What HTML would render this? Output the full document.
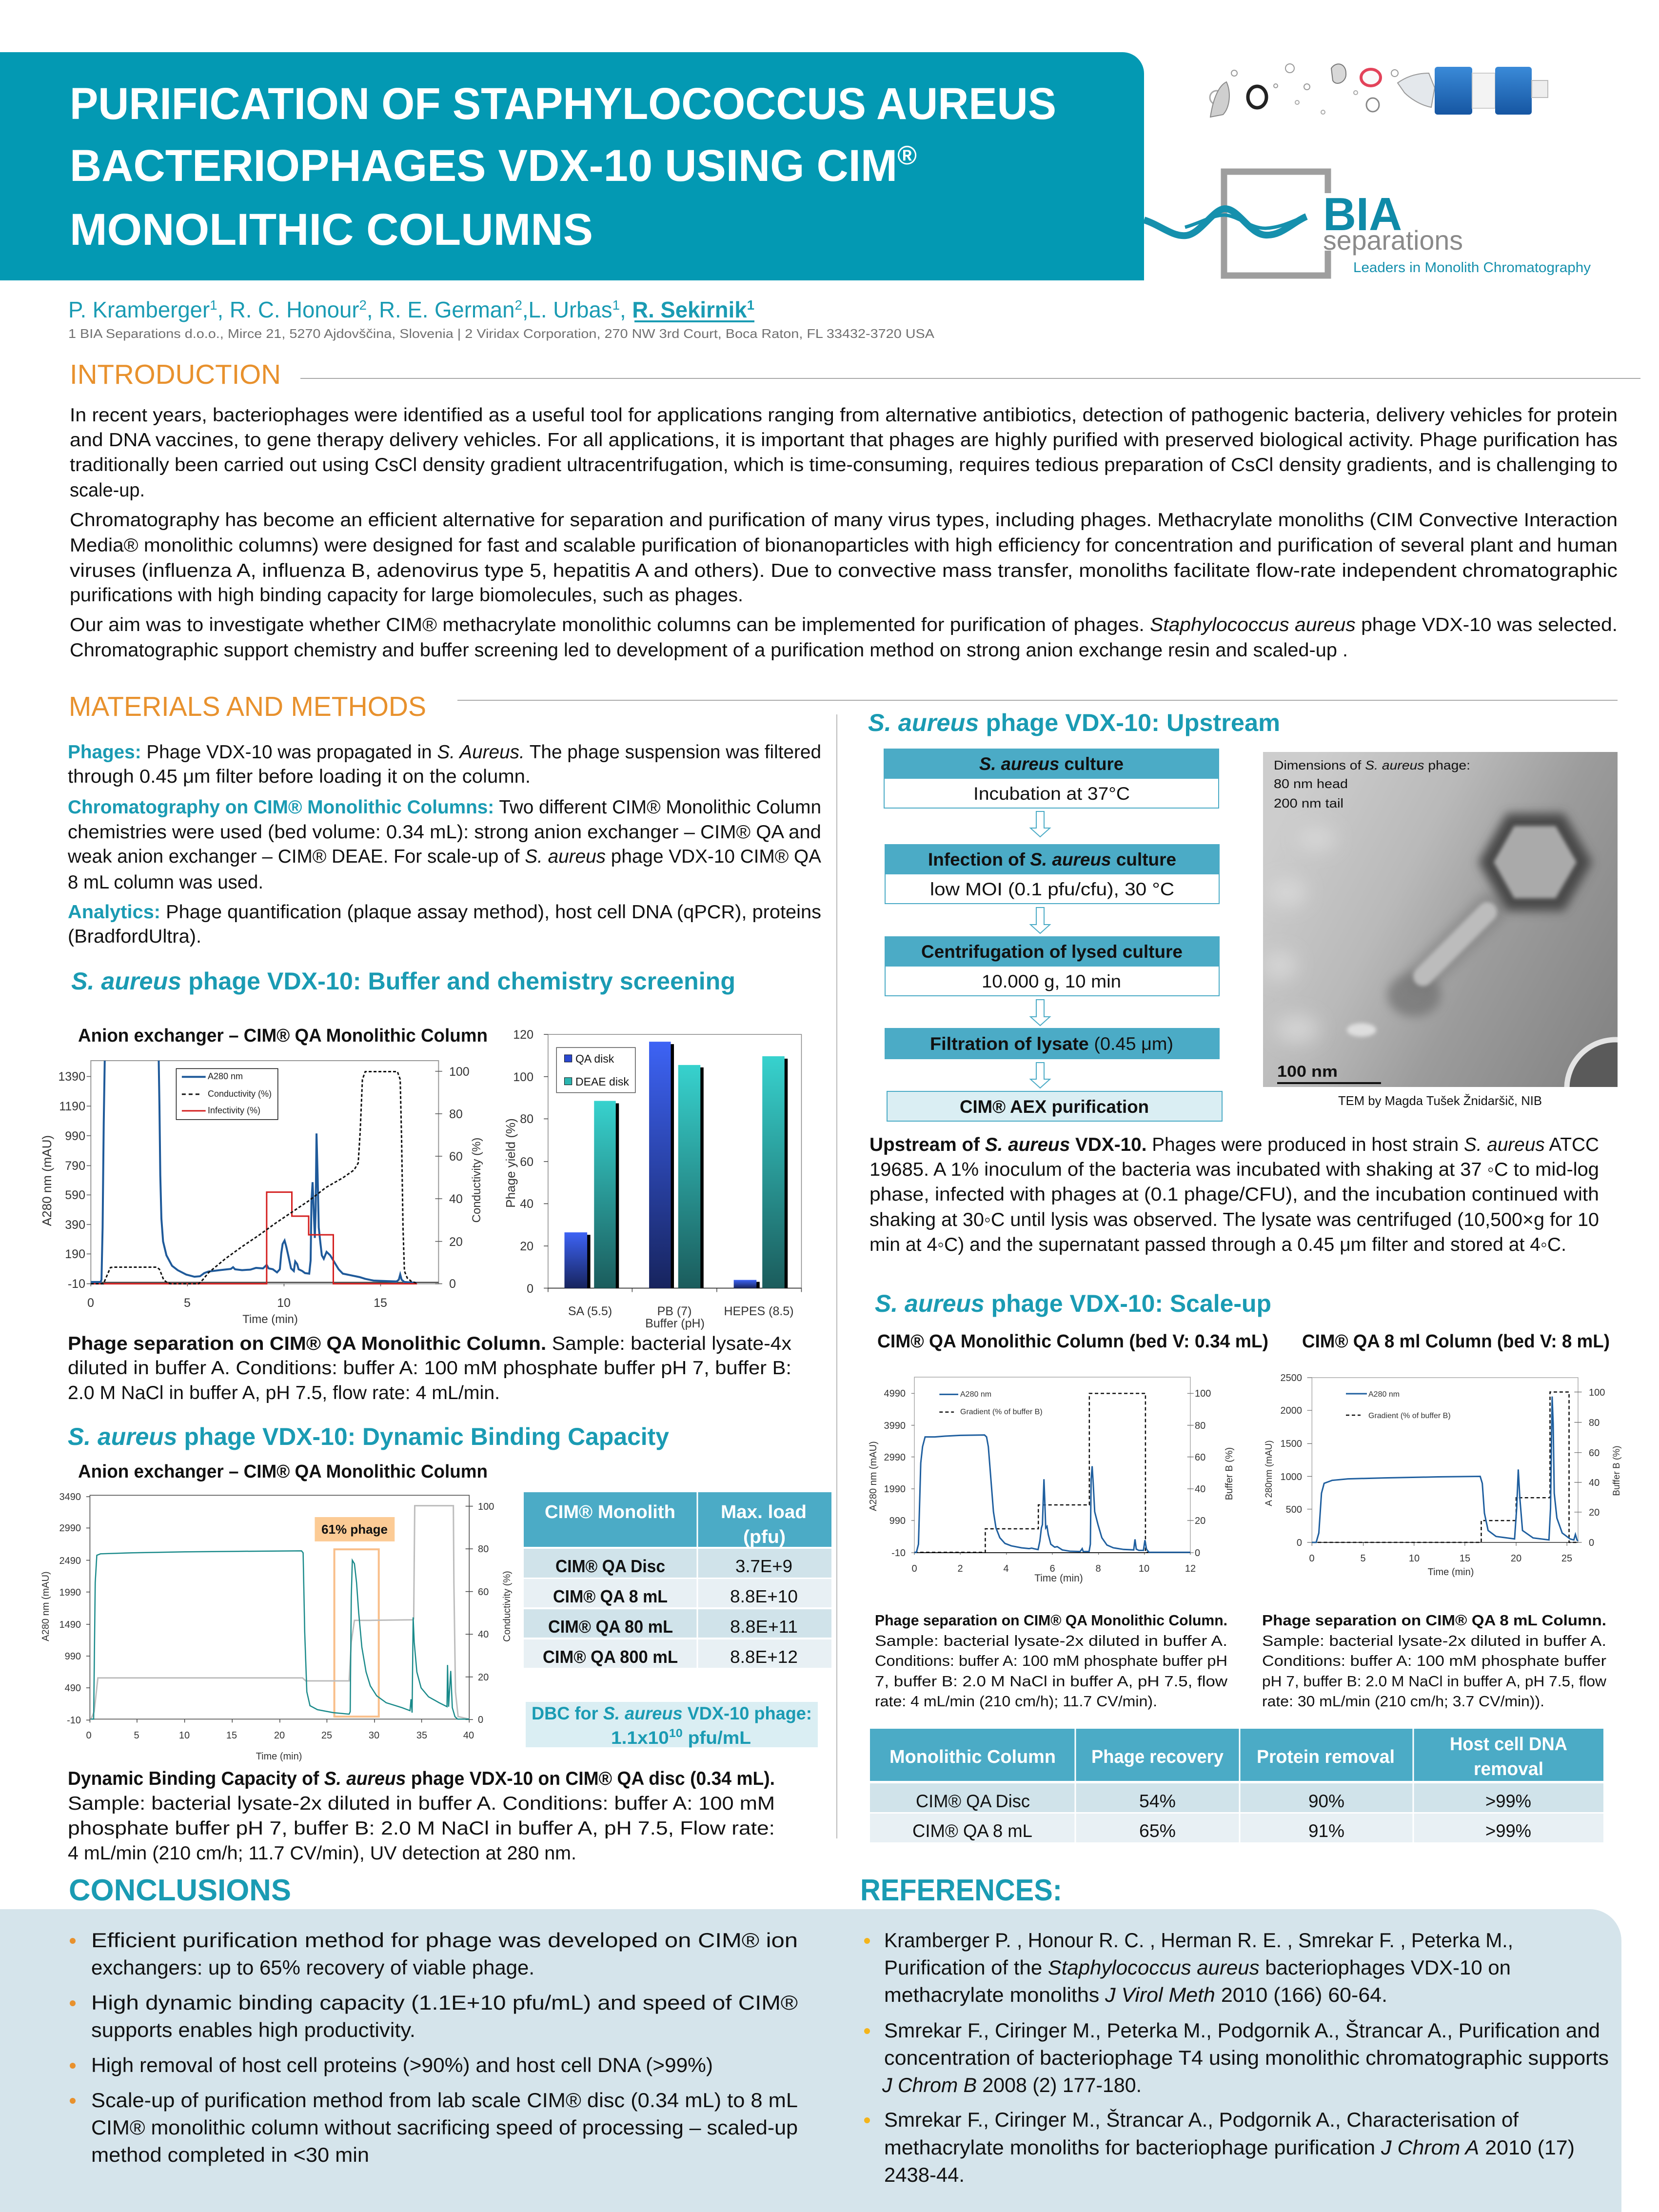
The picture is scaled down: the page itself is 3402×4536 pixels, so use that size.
<!DOCTYPE html>
<html><head><meta charset="utf-8"><style>
html,body{margin:0;padding:0;background:#fff;}
svg{display:block;font-family:"Liberation Sans","DejaVu Sans",sans-serif;}
.ns *{vector-effect:non-scaling-stroke;}
.tk{fill:#333;}
</style></head><body>
<svg xmlns="http://www.w3.org/2000/svg" width="3402" height="4536" viewBox="0 0 3402 4536">
<defs>
<linearGradient id="gQA" x1="0" y1="0" x2="0" y2="1"><stop offset="0" stop-color="#3d63f5"/><stop offset="1" stop-color="#17245e"/></linearGradient>
<linearGradient id="gDE" x1="0" y1="0" x2="0" y2="1"><stop offset="0" stop-color="#37d2ce"/><stop offset="1" stop-color="#1b5c5c"/></linearGradient>
<linearGradient id="gTEM" x1="0" y1="0.3" x2="1" y2="0.8"><stop offset="0" stop-color="#cdcdcd"/><stop offset="0.35" stop-color="#b9b9b9"/><stop offset="0.62" stop-color="#9c9c9c"/><stop offset="1" stop-color="#858585"/></linearGradient>
<linearGradient id="gCyl" x1="0" y1="0" x2="0" y2="1"><stop offset="0" stop-color="#3a8ad8"/><stop offset="1" stop-color="#1656a2"/></linearGradient>
<filter id="bl10" x="-50%" y="-50%" width="200%" height="200%"><feGaussianBlur stdDeviation="10"/></filter>
<filter id="bl4" x="-50%" y="-50%" width="200%" height="200%"><feGaussianBlur stdDeviation="4"/></filter>
<filter id="bl18" x="-80%" y="-80%" width="260%" height="260%"><feGaussianBlur stdDeviation="18"/></filter>
<clipPath id="c1"><rect x="220" y="42" width="1242" height="1295"/></clipPath>
<clipPath id="ctem"><rect x="2590" y="1542" width="727" height="687"/></clipPath>
</defs>

<!-- HEADER -->
<path d="M0,107 H2302 A44,44 0 0 1 2346,151 V575 H0 Z" fill="#0399b3"/>
<g fill="#fff" font-weight="bold" font-size="92">
<text x="143" y="244" textLength="2023" lengthAdjust="spacingAndGlyphs">PURIFICATION OF STAPHYLOCOCCUS AUREUS</text>
<text x="143" y="371" textLength="1737" lengthAdjust="spacingAndGlyphs">BACTERIOPHAGES VDX-10 USING CIM<tspan font-size="55" dy="-34">®</tspan></text>
<text x="143" y="502" textLength="1073" lengthAdjust="spacingAndGlyphs">MONOLITHIC COLUMNS</text>
</g>

<!-- product image -->
<g>
<circle cx="2495" cy="200" r="14" fill="none" stroke="#aaa" stroke-width="3"/>
<path d="M2482,240 C2488,200 2500,175 2515,168 C2525,190 2522,220 2508,235 Z" fill="#cfcfcf" stroke="#888" stroke-width="2"/>
<circle cx="2531" cy="150" r="6" fill="none" stroke="#999" stroke-width="2"/>
<ellipse cx="2578" cy="199" rx="19" ry="22" fill="none" stroke="#222" stroke-width="7"/>
<circle cx="2616" cy="176" r="4" fill="none" stroke="#999" stroke-width="2"/>
<circle cx="2645" cy="140" r="9" fill="none" stroke="#999" stroke-width="2"/>
<circle cx="2680" cy="178" r="6" fill="none" stroke="#999" stroke-width="2"/>
<circle cx="2660" cy="210" r="4" fill="none" stroke="#aaa" stroke-width="2"/>
<path d="M2730,140 C2740,125 2760,130 2760,150 C2762,168 2740,178 2733,165 Z" fill="#d8d8d8" stroke="#777" stroke-width="2"/>
<circle cx="2713" cy="230" r="4" fill="none" stroke="#aaa" stroke-width="2"/>
<ellipse cx="2811" cy="159" rx="20" ry="17" fill="#fafafa" stroke="#e3435a" stroke-width="6"/>
<ellipse cx="2815" cy="215" rx="13" ry="14" fill="none" stroke="#888" stroke-width="3"/>
<circle cx="2780" cy="190" r="4" fill="none" stroke="#aaa" stroke-width="2"/>
<circle cx="2860" cy="150" r="7" fill="none" stroke="#999" stroke-width="2"/>
<path d="M2866,170 C2880,160 2900,150 2930,150 L2942,180 L2935,220 C2910,215 2890,200 2880,190 Z" fill="#e4e8ec" stroke="#999" stroke-width="2"/>
<rect x="2942" y="137" width="77" height="98" rx="6" fill="url(#gCyl)"/>
<rect x="3019" y="150" width="47" height="72" fill="#f3f3f3" stroke="#ccc" stroke-width="2"/>
<rect x="3066" y="137" width="75" height="98" rx="6" fill="url(#gCyl)"/>
<rect x="3141" y="165" width="33" height="35" fill="#eeeeee" stroke="#bbb" stroke-width="2"/>
</g>

<!-- BIA logo -->
<path d="M2723,396 V352 H2510 V565 H2723 V514" fill="none" stroke="#9e9e9e" stroke-width="13"/>
<path d="M2346,451 C2380,462 2405,486 2432,483 C2462,480 2488,428 2512,428 C2540,428 2562,480 2595,482 C2628,484 2652,455 2679,444" fill="none" stroke="#1590ad" stroke-width="14"/>
<path d="M2430,466 C2460,458 2488,440 2512,441 C2540,443 2566,470 2597,468 C2630,466 2652,452 2672,446" fill="none" stroke="#1590ad" stroke-width="7"/>
<text x="2713" y="472" font-size="96" font-weight="bold" fill="#0f8aa8" textLength="162" lengthAdjust="spacingAndGlyphs">BIA</text>
<text x="2713" y="512" font-size="56" fill="#8a8a8a" textLength="287" lengthAdjust="spacingAndGlyphs">separations</text>
<text x="2775" y="558" font-size="29" fill="#1590ad" textLength="487" lengthAdjust="spacingAndGlyphs">Leaders in Monolith Chromatography</text>

<!-- AUTHORS -->
<text x="140" y="651" font-size="46" fill="#1a9bb3" textLength="1407" lengthAdjust="spacingAndGlyphs">P. Kramberger<tspan dy="-16" font-size="28">1</tspan><tspan dy="16">, R. C. Honour</tspan><tspan dy="-16" font-size="28">2</tspan><tspan dy="16">, R. E. German</tspan><tspan dy="-16" font-size="28">2</tspan><tspan dy="16">,L. Urbas</tspan><tspan dy="-16" font-size="28">1</tspan><tspan dy="16">, </tspan><tspan font-weight="bold">R. Sekirnik</tspan><tspan dy="-16" font-size="28" font-weight="bold">1</tspan></text>
<rect x="1301" y="657" width="246" height="4" fill="#1a9bb3"/>
<text x="140" y="693" font-size="26" fill="#707070" textLength="1776" lengthAdjust="spacingAndGlyphs">1 BIA Separations d.o.o., Mirce 21, 5270 Ajdovščina, Slovenia | 2 Viridax Corporation, 270 NW 3rd Court, Boca Raton, FL 33432-3720 USA</text>

<!-- INTRODUCTION -->
<text x="143" y="787" font-size="57" fill="#e8912d" textLength="433" lengthAdjust="spacingAndGlyphs">INTRODUCTION</text>
<line x1="616" y1="776" x2="3364" y2="776" stroke="#aaa" stroke-width="2"/>
<g font-size="39" fill="#111">
<text x="143" y="864" textLength="3174" lengthAdjust="spacingAndGlyphs">In recent years, bacteriophages were identified as a useful tool for applications ranging from alternative antibiotics, detection of pathogenic bacteria, delivery vehicles for protein</text>
<text x="143" y="915" textLength="3174" lengthAdjust="spacingAndGlyphs">and DNA vaccines, to gene therapy delivery vehicles. For all applications, it is important that phages are highly purified with preserved biological activity. Phage purification has</text>
<text x="143" y="966" textLength="3174" lengthAdjust="spacingAndGlyphs">traditionally been carried out using CsCl density gradient ultracentrifugation, which is time-consuming, requires tedious preparation of CsCl density gradients, and is challenging to</text>
<text x="143" y="1018" textLength="154" lengthAdjust="spacingAndGlyphs">scale-up.</text>
<text x="143" y="1079" textLength="3174" lengthAdjust="spacingAndGlyphs">Chromatography has become an efficient alternative for separation and purification of many virus types, including phages. Methacrylate monoliths (CIM Convective Interaction</text>
<text x="143" y="1131" textLength="3174" lengthAdjust="spacingAndGlyphs">Media® monolithic columns) were designed for fast and scalable purification of bionanoparticles with high efficiency for concentration and purification of several plant and human</text>
<text x="143" y="1183" textLength="3174" lengthAdjust="spacingAndGlyphs">viruses (influenza A, influenza B, adenovirus type 5, hepatitis A and others). Due to convective mass transfer, monoliths facilitate flow-rate independent chromatographic</text>
<text x="143" y="1233" textLength="1381" lengthAdjust="spacingAndGlyphs">purifications with high binding capacity for large biomolecules, such as phages.</text>
<text x="143" y="1294" textLength="3174" lengthAdjust="spacingAndGlyphs">Our aim was to investigate whether CIM® methacrylate monolithic columns can be implemented for purification of phages. <tspan font-style="italic">Staphylococcus aureus</tspan> phage VDX-10  was selected.</text>
<text x="143" y="1346" textLength="2621" lengthAdjust="spacingAndGlyphs">Chromatographic support chemistry and buffer screening led to development of a purification method on strong anion exchange resin and scaled-up .</text>
</g>

<!-- MATERIALS AND METHODS -->
<text x="141" y="1468" font-size="57" fill="#e8912d" textLength="733" lengthAdjust="spacingAndGlyphs">MATERIALS AND METHODS</text>
<line x1="938" y1="1436" x2="3317" y2="1436" stroke="#aaa" stroke-width="2"/>
<line x1="1716" y1="1465" x2="1716" y2="3770" stroke="#bbb" stroke-width="2"/>
<g font-size="39" fill="#111">
<text x="139" y="1555" textLength="1545" lengthAdjust="spacingAndGlyphs"><tspan fill="#1a9bb3" font-weight="bold">Phages:</tspan> Phage VDX-10 was propagated in <tspan font-style="italic">S. Aureus.</tspan> The phage suspension was filtered</text>
<text x="139" y="1605" textLength="949" lengthAdjust="spacingAndGlyphs">through 0.45 μm filter before loading it on the column.</text>
<text x="139" y="1668" textLength="1545" lengthAdjust="spacingAndGlyphs"><tspan fill="#1a9bb3" font-weight="bold">Chromatography on CIM® Monolithic Columns:</tspan> Two different CIM® Monolithic Column</text>
<text x="139" y="1719" textLength="1545" lengthAdjust="spacingAndGlyphs">chemistries were used (bed volume: 0.34 mL): strong anion exchanger – CIM® QA and</text>
<text x="139" y="1769" textLength="1545" lengthAdjust="spacingAndGlyphs">weak anion exchanger – CIM® DEAE.  For scale-up of <tspan font-style="italic">S. aureus</tspan> phage VDX-10 CIM® QA</text>
<text x="139" y="1822" textLength="401" lengthAdjust="spacingAndGlyphs">8 mL column was used.</text>
<text x="139" y="1883" textLength="1545" lengthAdjust="spacingAndGlyphs"><tspan fill="#1a9bb3" font-weight="bold">Analytics:</tspan> Phage quantification (plaque assay method), host cell DNA (qPCR), proteins</text>
<text x="139" y="1933" textLength="274" lengthAdjust="spacingAndGlyphs">(BradfordUltra).</text>
</g>

<!-- Buffer screening heading -->
<text x="146" y="2029" font-size="50" font-weight="bold" fill="#1a9bb3" textLength="1362" lengthAdjust="spacingAndGlyphs"><tspan font-style="italic">S. aureus</tspan> phage VDX-10: Buffer and chemistry screening</text>
<text x="160" y="2136" font-size="38" font-weight="bold" fill="#111" textLength="840" lengthAdjust="spacingAndGlyphs">Anion exchanger – CIM® QA Monolithic Column</text>

<!-- CHART 1 -->
<g class="ns" transform="translate(60,2160) scale(0.5741,0.3571)" fill="none">
<rect x="220" y="42" width="1242" height="1281" stroke="#999" stroke-width="2"/>
<path d="M205,133H220M205,303H220M205,473H220M205,645H220M205,813H220M205,983H220M205,1152H220M205,1323H220" stroke="#555" stroke-width="1.5"/>
<path d="M1450,103H1475M1450,347H1475M1450,591H1475M1450,835H1475M1450,1080H1475M1450,1323H1475" stroke="#555" stroke-width="1.5"/>
<path d="M220,1323V1338M565,1323V1338M910,1323V1338M1255,1323V1338" stroke="#555" stroke-width="1.5"/>
<path d="M220,1315H1462" stroke="#222" stroke-width="2"/>
<g clip-path="url(#c1)">
<path d="M220,1313 L255,1313 L258,1300 L262,1000 L266,400 L270,0" stroke="#1f5a9a" stroke-width="4"/>
<path d="M462,0 L465,300 L468,700 L472,950 L478,1080 L490,1160 L510,1220 L530,1245 L560,1270 L590,1283 L610,1280 L625,1262 L640,1253 L680,1245 L720,1238 L728,1228 L735,1240 L760,1245 L790,1242 L810,1232 L835,1235 L848,1215 L855,1235 L870,1240 L885,1258 L895,1240 L900,1150 L905,1095 L912,1075 L918,1110 L925,1160 L935,1235 L945,1250 L950,1195 L957,1210 L962,1240 L975,1250 L985,1262 L1000,1265 L1005,1190 L1008,850 L1012,740 L1016,900 L1020,1060 L1023,900 L1026,460 L1030,700 L1034,1000 L1040,1090 L1045,1160 L1052,1180 L1062,1140 L1075,1160 L1090,1200 L1105,1240 L1120,1265 L1150,1275 L1180,1285 L1200,1295 L1230,1305 L1280,1308 L1312,1310 L1320,1300 L1325,1270 L1330,1300 L1340,1313 L1385,1318" stroke="#1f5a9a" stroke-width="4"/>
<path d="M220,1323 L848,1323 L848,797 L938,797 L938,935 L998,935 L998,1042 L1086,1042 L1086,1323 L1385,1323" stroke="#d42020" stroke-width="3"/>
<path d="M220,1323 L265,1323 L290,1230 L300,1228 L455,1228 L465,1240 L480,1300 L495,1320 L505,1323 L605,1323 L620,1300 L640,1260 L700,1180 L760,1110 L820,1045 L880,975 L940,910 L1000,845 L1060,770 L1120,715 L1160,670 L1175,630 L1182,450 L1190,150 L1200,105 L1315,105 L1325,150 L1330,500 L1335,1000 L1340,1250 L1350,1290 L1365,1310 L1385,1320" stroke="#111" stroke-width="3" stroke-dasharray="6,4"/>
</g>
<rect x="525" y="88" width="363" height="292" fill="#fff" stroke="#111" stroke-width="1.5"/>
<path d="M545,135H630" stroke="#1f5a9a" stroke-width="4"/>
<path d="M545,235H610" stroke="#111" stroke-width="3" stroke-dasharray="8,6"/>
<path d="M545,330H630" stroke="#d42020" stroke-width="3"/>
</g>
<g class="tk" font-size="25">
<g text-anchor="end"><text x="175" y="2216">1390</text><text x="175" y="2277">1190</text><text x="175" y="2338">990</text><text x="175" y="2399">790</text><text x="175" y="2459">590</text><text x="175" y="2520">390</text><text x="175" y="2580">190</text><text x="175" y="2641">-10</text></g>
<g><text x="921" y="2206">100</text><text x="921" y="2293">80</text><text x="921" y="2380">60</text><text x="921" y="2467">40</text><text x="921" y="2555">20</text><text x="921" y="2641">0</text></g>
<g text-anchor="middle"><text x="186" y="2680">0</text><text x="384" y="2680">5</text><text x="582" y="2680">10</text><text x="780" y="2680">15</text>
<text x="554" y="2713" font-size="24">Time (min)</text>
<text transform="translate(105,2421) rotate(-90)" font-size="26">A280 nm (mAU)</text>
<text transform="translate(985,2420) rotate(-90)" font-size="24">Conductivity (%)</text></g>
<g font-size="18" fill="#222"><text x="426" y="2213">A280 nm</text><text x="426" y="2249">Conductivity (%)</text><text x="426" y="2283">Infectivity (%)</text></g>
</g>

<!-- BAR CHART -->
<g class="ns" transform="translate(0,1380) scale(1.0848,0.9949)">
<rect x="1036" y="745" width="479" height="523" fill="none" stroke="#888" stroke-width="1.5"/>
<path d="M1028,745H1036M1028,832H1036M1028,919H1036M1028,1007H1036M1028,1094H1036M1028,1181H1036M1028,1268H1036M1195,1268V1276M1355,1268V1276M1036,1268V1276M1515,1268V1276" stroke="#444" stroke-width="1.5"/>
<path d="M1036,1268H1515" stroke="#222" stroke-width="1.5"/>
<rect x="1073" y="1158" width="43" height="110" fill="#000"/><rect x="1067" y="1153" width="43" height="115" fill="url(#gQA)"/>
<rect x="1129" y="887" width="41" height="381" fill="#000"/><rect x="1123" y="882" width="41" height="386" fill="url(#gDE)"/>
<rect x="1233" y="765" width="41" height="503" fill="#000"/><rect x="1227" y="760" width="41" height="508" fill="url(#gQA)"/>
<rect x="1288" y="813" width="42" height="455" fill="#000"/><rect x="1282" y="808" width="42" height="460" fill="url(#gDE)"/>
<rect x="1393" y="1255" width="43" height="13" fill="#000"/><rect x="1387" y="1251" width="43" height="17" fill="url(#gQA)"/>
<rect x="1447" y="795" width="42" height="473" fill="#000"/><rect x="1441" y="790" width="42" height="478" fill="url(#gDE)"/>
<rect x="1052" y="772" width="149" height="93" fill="#fff" stroke="#555" stroke-width="1.5"/>
<rect x="1067" y="787" width="14" height="15" fill="#2a48d0" stroke="#111" stroke-width="1"/>
<rect x="1067" y="834" width="14" height="15" fill="#2bb5b0" stroke="#111" stroke-width="1"/>
</g>
<g class="tk" font-size="25">
<g text-anchor="end"><text x="1094" y="2130">120</text><text x="1094" y="2217">100</text><text x="1094" y="2303">80</text><text x="1094" y="2391">60</text><text x="1094" y="2477">40</text><text x="1094" y="2564">20</text><text x="1094" y="2651">0</text></g>
<g text-anchor="middle"><text x="1210" y="2697">SA (5.5)</text><text x="1383" y="2697">PB (7)</text><text x="1556" y="2697">HEPES (8.5)</text><text x="1384" y="2722">Buffer (pH)</text>
<text transform="translate(1056,2385) rotate(-90)" font-size="26">Phage yield (%)</text></g>
<g font-size="23" fill="#111"><text x="1180" y="2179">QA disk</text><text x="1180" y="2226">DEAE disk</text></g>
</g>

<!-- Buffer caption -->
<g font-size="39" fill="#111">
<text x="139" y="2768" textLength="1484" lengthAdjust="spacingAndGlyphs"><tspan font-weight="bold">Phage separation on CIM® QA Monolithic Column.</tspan> Sample: bacterial lysate-4x</text>
<text x="139" y="2818" textLength="1484" lengthAdjust="spacingAndGlyphs">diluted in buffer A. Conditions: buffer A:  100 mM phosphate buffer pH 7, buffer B:</text>
<text x="139" y="2869" textLength="886" lengthAdjust="spacingAndGlyphs">2.0 M NaCl in buffer A, pH 7.5, flow rate: 4 mL/min.</text>
</g>

<!-- DBC heading -->
<text x="139" y="2963" font-size="50" font-weight="bold" fill="#1a9bb3" textLength="1233" lengthAdjust="spacingAndGlyphs"><tspan font-style="italic">S. aureus</tspan> phage VDX-10: Dynamic Binding Capacity</text>
<text x="160" y="3030" font-size="38" font-weight="bold" fill="#111" textLength="840" lengthAdjust="spacingAndGlyphs">Anion exchanger – CIM® QA Monolithic Column</text>

<!-- DBC CHART -->
<g class="ns" transform="translate(0,2940) scale(1.0848,1.0178)" fill="none">
<rect x="170" y="124" width="717" height="451" stroke="#444" stroke-width="1.5"/>
<path d="M163,127H170M163,190H170M163,255H170M163,319H170M163,384H170M163,448H170M163,512H170M163,577H170" stroke="#444" stroke-width="1.5"/>
<path d="M170,575V582M259,575V582M349,575V582M439,575V582M529,575V582M618,575V582M708,575V582M797,575V582M887,575V582" stroke="#444" stroke-width="1.5"/>
<path d="M880,146H894M880,232H894M880,318H894M880,404H894M880,490H894M880,576H894" stroke="#444" stroke-width="1.5"/>
<rect x="595" y="168" width="151" height="49" fill="#fccb95"/>
<rect x="632" y="233" width="84" height="337" stroke="#f9bf8a" stroke-width="4"/>
<path d="M172,575 L178,560 L185,492 L572,492 L578,498 L660,498 L664,420 L670,376 L700,376 L780,375 L782,373 L784,145 L857,145 L858,300 L861,520 L866,570 L887,575" stroke="#bdbdbd" stroke-width="3"/>
<path d="M172,575 L177,575 L180,300 L183,245 L190,242 L250,240 L350,238 L450,237 L570,236 L573,240 L576,400 L580,520 L586,548 L600,556 L630,562 L660,565 L662,560 L664,330 L666,255 L670,262 L674,300 L678,360 L684,430 L692,480 L700,508 L712,528 L730,542 L760,552 L775,558 L777,535 L779,562 L781,370 L783,420 L788,480 L796,512 L810,530 L830,542 L845,550 L846,466 L848,550 L852,478 L855,552 L860,570 L865,575 L887,575" stroke="#1a8a8a" stroke-width="2.5"/>
</g>
<g class="tk" font-size="20">
<g text-anchor="end"><text x="166" y="3076">3490</text><text x="166" y="3140">2990</text><text x="166" y="3207">2490</text><text x="166" y="3272">1990</text><text x="166" y="3338">1490</text><text x="166" y="3403">990</text><text x="166" y="3468">490</text><text x="166" y="3534">-10</text></g>
<g text-anchor="middle"><text x="182" y="3565">0</text><text x="280" y="3565">5</text><text x="378" y="3565">10</text><text x="475" y="3565">15</text><text x="573" y="3565">20</text><text x="670" y="3565">25</text><text x="767" y="3565">30</text><text x="865" y="3565">35</text><text x="961" y="3565">40</text>
<text x="572" y="3608">Time (min)</text>
<text transform="translate(100,3294) rotate(-90)">A280 nm (mAU)</text>
<text transform="translate(1046,3294) rotate(-90)">Conductivity (%)</text>
<text x="727" y="3145" font-size="26" font-weight="bold" fill="#111">61% phage</text></g>
<g><text x="980" y="3096">100</text><text x="980" y="3183">80</text><text x="980" y="3271">60</text><text x="980" y="3358">40</text><text x="980" y="3446">20</text><text x="980" y="3533">0</text></g>
</g>

<!-- DBC TABLE -->
<rect x="1074" y="3060" width="631" height="112" fill="#4babc6"/>
<rect x="1074" y="3176" width="631" height="59" fill="#d0e3ea"/>
<rect x="1074" y="3238" width="631" height="58" fill="#e8f0f4"/>
<rect x="1074" y="3300" width="631" height="58" fill="#d0e3ea"/>
<rect x="1074" y="3362" width="631" height="58" fill="#e8f0f4"/>
<line x1="1430" y1="3060" x2="1430" y2="3420" stroke="#fff" stroke-width="3"/>
<g font-size="38" font-weight="bold" fill="#fff">
<text x="1117" y="3113" textLength="268" lengthAdjust="spacingAndGlyphs">CIM® Monolith</text>
<text x="1478" y="3113" textLength="176" lengthAdjust="spacingAndGlyphs">Max. load</text>
<text x="1524" y="3164" textLength="87" lengthAdjust="spacingAndGlyphs">(pfu)</text>
</g>
<g font-size="36" fill="#111">
<text x="1139" y="3224" font-weight="bold" textLength="225" lengthAdjust="spacingAndGlyphs">CIM® QA Disc</text>
<text x="1134" y="3286" font-weight="bold" textLength="235" lengthAdjust="spacingAndGlyphs">CIM® QA 8 mL</text>
<text x="1124" y="3348" font-weight="bold" textLength="256" lengthAdjust="spacingAndGlyphs">CIM® QA 80 mL</text>
<text x="1113" y="3410" font-weight="bold" textLength="277" lengthAdjust="spacingAndGlyphs">CIM® QA 800 mL</text>
<text x="1508" y="3224" textLength="117" lengthAdjust="spacingAndGlyphs">3.7E+9</text>
<text x="1497" y="3286" textLength="139" lengthAdjust="spacingAndGlyphs">8.8E+10</text>
<text x="1497" y="3348" textLength="139" lengthAdjust="spacingAndGlyphs">8.8E+11</text>
<text x="1497" y="3410" textLength="139" lengthAdjust="spacingAndGlyphs">8.8E+12</text>
</g>
<rect x="1078" y="3490" width="599" height="93" fill="#daeef3"/>
<g font-size="37" font-weight="bold" fill="#1a9bb3">
<text x="1090" y="3526" textLength="575" lengthAdjust="spacingAndGlyphs">DBC for <tspan font-style="italic">S. aureus</tspan> VDX-10 phage:</text>
<text x="1253" y="3576" textLength="287" lengthAdjust="spacingAndGlyphs">1.1x10<tspan font-size="24" dy="-14">10</tspan><tspan dy="14"> pfu/mL</tspan></text>
</g>

<!-- DBC caption -->
<g font-size="39" fill="#111">
<text x="139" y="3660" font-weight="bold" textLength="1450" lengthAdjust="spacingAndGlyphs">Dynamic Binding Capacity of <tspan font-style="italic">S. aureus</tspan> phage VDX-10 on CIM® QA disc (0.34 mL).</text>
<text x="139" y="3711" textLength="1450" lengthAdjust="spacingAndGlyphs">Sample: bacterial lysate-2x diluted in buffer A. Conditions: buffer A:   100 mM</text>
<text x="139" y="3762" textLength="1450" lengthAdjust="spacingAndGlyphs">phosphate buffer  pH 7, buffer B: 2.0 M NaCl in buffer A, pH 7.5, Flow rate:</text>
<text x="139" y="3813" textLength="1043" lengthAdjust="spacingAndGlyphs">4 mL/min (210 cm/h; 11.7 CV/min), UV detection at 280 nm.</text>
</g>

<!-- UPSTREAM -->
<text x="1780" y="1499" font-size="50" font-weight="bold" fill="#1a9bb3" textLength="845" lengthAdjust="spacingAndGlyphs"><tspan font-style="italic">S. aureus</tspan> phage VDX-10: Upstream</text>
<g stroke="#4babc6" stroke-width="2">
<rect x="1813" y="1536" width="686" height="60" fill="#4babc6"/>
<rect x="1813" y="1596" width="686" height="61" fill="#fff"/>
<rect x="1815" y="1732" width="685" height="60" fill="#4babc6"/>
<rect x="1815" y="1792" width="685" height="61" fill="#fff"/>
<rect x="1815" y="1921" width="685" height="60" fill="#4babc6"/>
<rect x="1815" y="1981" width="685" height="61" fill="#fff"/>
<rect x="1815" y="2109" width="685" height="62" fill="#4babc6"/>
<rect x="1819" y="2238" width="687" height="61" fill="#daeef3"/>
<path d="M2125,1664H2141V1698H2153L2133,1716L2113,1698H2125Z" fill="#fff"/>
<path d="M2125,1861H2141V1896H2153L2133,1914L2113,1896H2125Z" fill="#fff"/>
<path d="M2125,2050H2141V2085H2153L2133,2103L2113,2085H2125Z" fill="#fff"/>
<path d="M2125,2179H2141V2213H2153L2133,2231L2113,2213H2125Z" fill="#fff"/>
</g>
<g font-size="37" fill="#111">
<text x="2008" y="1579" font-weight="bold" textLength="296" lengthAdjust="spacingAndGlyphs"><tspan font-style="italic">S. aureus</tspan> culture</text>
<text x="1996" y="1640" textLength="321" lengthAdjust="spacingAndGlyphs">Incubation at 37°C</text>
<text x="1903" y="1775" font-weight="bold" textLength="509" lengthAdjust="spacingAndGlyphs">Infection of <tspan font-style="italic">S. aureus</tspan> culture</text>
<text x="1907" y="1836" textLength="501" lengthAdjust="spacingAndGlyphs">low MOI (0.1 pfu/cfu), 30 °C</text>
<text x="1889" y="1964" font-weight="bold" textLength="536" lengthAdjust="spacingAndGlyphs">Centrifugation of lysed culture</text>
<text x="2013" y="2025" textLength="286" lengthAdjust="spacingAndGlyphs">10.000 g, 10 min</text>
<text x="1907" y="2153" textLength="499" lengthAdjust="spacingAndGlyphs"><tspan font-weight="bold">Filtration of lysate</tspan> (0.45 μm)</text>
<text x="1968" y="2282" font-weight="bold" textLength="388" lengthAdjust="spacingAndGlyphs">CIM® AEX purification</text>
</g>

<!-- TEM image -->
<g clip-path="url(#ctem)">
<rect x="2590" y="1542" width="727" height="687" fill="url(#gTEM)"/>
<g filter="url(#bl18)" fill="#dcdcdc" opacity="0.7">
<ellipse cx="2640" cy="1830" rx="40" ry="30"/>
<ellipse cx="2625" cy="1980" rx="35" ry="30"/>
<ellipse cx="2700" cy="1720" rx="40" ry="25"/>
<ellipse cx="2660" cy="2110" rx="45" ry="30"/>
</g>
<ellipse cx="2792" cy="2112" rx="30" ry="14" fill="#dedede" filter="url(#bl4)"/>
<ellipse cx="2900" cy="2040" rx="55" ry="45" fill="#6f6f6f" opacity="0.7" filter="url(#bl10)"/>
<line x1="3055" y1="1866" x2="2915" y2="2006" stroke="#777" stroke-width="70" stroke-linecap="round" opacity="0.45" filter="url(#bl10)"/>
<line x1="3050" y1="1870" x2="2918" y2="2002" stroke="#bcbcbc" stroke-width="40" stroke-linecap="round" filter="url(#bl4)"/>
<polygon points="3265,1768 3207,1668 3090,1668 3032,1768 3090,1868 3207,1868" fill="#4a4a4a" filter="url(#bl10)"/>
<polygon points="3233,1768 3190,1694 3105,1694 3063,1768 3105,1842 3190,1842" fill="#aaaaaa" filter="url(#bl4)"/>
<circle cx="3313" cy="2232" r="100" fill="#5a5a5a" stroke="#e4e4e4" stroke-width="11"/>
</g>
<g font-size="26" fill="#111">
<text x="2612" y="1578" textLength="403" lengthAdjust="spacingAndGlyphs">Dimensions of <tspan font-style="italic">S. aureus</tspan> phage:</text>
<text x="2612" y="1616" textLength="152" lengthAdjust="spacingAndGlyphs">80 nm head</text>
<text x="2612" y="1656" textLength="143" lengthAdjust="spacingAndGlyphs">200 nm tail</text>
<text x="2619" y="2208" font-size="32" font-weight="bold" textLength="124" lengthAdjust="spacingAndGlyphs">100 nm</text>
<text x="2744" y="2266" textLength="418" lengthAdjust="spacingAndGlyphs">TEM by Magda Tušek Žnidaršič, NIB</text>
</g>
<rect x="2619" y="2219" width="213" height="4" fill="#111"/>

<!-- Upstream paragraph -->
<g font-size="39" fill="#111">
<text x="1783" y="2360" textLength="1496" lengthAdjust="spacingAndGlyphs"><tspan font-weight="bold">Upstream of <tspan font-style="italic">S. aureus</tspan> VDX-10.</tspan> Phages were produced in host strain <tspan font-style="italic">S. aureus</tspan> ATCC</text>
<text x="1783" y="2411" textLength="1496" lengthAdjust="spacingAndGlyphs">19685. A 1% inoculum of the bacteria was incubated with shaking at 37 ◦C to mid-log</text>
<text x="1783" y="2462" textLength="1496" lengthAdjust="spacingAndGlyphs">phase, infected with phages at (0.1 phage/CFU), and the incubation continued with</text>
<text x="1783" y="2514" textLength="1496" lengthAdjust="spacingAndGlyphs">shaking at 30◦C until lysis was observed. The lysate was centrifuged (10,500×g for 10</text>
<text x="1783" y="2565" textLength="1429" lengthAdjust="spacingAndGlyphs">min at 4◦C) and the supernatant passed through a 0.45 μm filter and stored at 4◦C.</text>
</g>

<!-- SCALE-UP -->
<text x="1794" y="2690" font-size="50" font-weight="bold" fill="#1a9bb3" textLength="813" lengthAdjust="spacingAndGlyphs"><tspan font-style="italic">S. aureus</tspan> phage VDX-10: Scale-up</text>
<text x="1799" y="2763" font-size="38" font-weight="bold" fill="#111" textLength="802" lengthAdjust="spacingAndGlyphs">CIM® QA Monolithic Column (bed V: 0.34 mL)</text>
<text x="2670" y="2763" font-size="38" font-weight="bold" fill="#111" textLength="631" lengthAdjust="spacingAndGlyphs">CIM® QA 8 ml Column (bed V: 8 mL)</text>

<!-- CHART 3 -->
<g class="ns" transform="translate(1760,2800) scale(0.5230,0.3333)" fill="none">
<rect x="220" y="72" width="1082" height="1080" stroke="#aaa" stroke-width="1.5"/>
<path d="M208,172H220M208,368H220M208,563H220M208,759H220M208,954H220M208,1152H220M1290,172H1315M1290,368H1315M1290,563H1315M1290,759H1315M1290,954H1315M1290,1152H1315" stroke="#666" stroke-width="1.2"/>
<path d="M220,1152V1165M400,1152V1165M581,1152V1165M761,1152V1165M942,1152V1165M1122,1152V1165M1302,1152V1165" stroke="#666" stroke-width="1.2"/>
<path d="M220,1152H1302" stroke="#222" stroke-width="2"/>
<path d="M220,1150 L498,1150 L498,1005 L706,1005 L706,858 L906,858 L906,172 L1126,172 L1126,1150 L1302,1150" stroke="#111" stroke-width="2.5" stroke-dasharray="7,5"/>
<path d="M220,1150 L228,1150 L236,1100 L245,600 L252,500 L262,440 L300,440 L340,435 L400,430 L495,428 L503,440 L510,500 L520,700 L530,900 L540,1000 L555,1060 L575,1095 L600,1110 L640,1122 L670,1127 L680,1124 L690,1128 L705,1133 L712,1080 L718,1000 L722,980 L728,700 L731,820 L735,1000 L740,990 L745,1040 L755,1100 L770,1118 L780,1115 L800,1135 L830,1143 L870,1145 L878,1127 L882,1145 L905,1145 L910,1100 L913,700 L917,620 L921,720 L927,900 L940,980 L955,1060 L975,1105 L1000,1122 L1040,1132 L1080,1135 L1085,1070 L1090,1130 L1100,1138 L1118,1138 L1124,1075 L1130,1130 L1140,1150 L1302,1150" stroke="#1f5f9f" stroke-width="3"/>
<path d="M318,178H392" stroke="#1f5f9f" stroke-width="3"/>
<path d="M318,287H375" stroke="#111" stroke-width="2.5" stroke-dasharray="7,5"/>
</g>
<g class="tk" font-size="20">
<g text-anchor="end"><text x="1857" y="2864">4990</text><text x="1857" y="2930">3990</text><text x="1857" y="2995">2990</text><text x="1857" y="3060">1990</text><text x="1857" y="3125">990</text><text x="1857" y="3191">-10</text></g>
<g text-anchor="middle"><text x="1875" y="3223">0</text><text x="1969" y="3223">2</text><text x="2063" y="3223">4</text><text x="2158" y="3223">6</text><text x="2252" y="3223">8</text><text x="2346" y="3223">10</text><text x="2441" y="3223">12</text>
<text x="2171" y="3243" font-size="21">Time (min)</text>
<text transform="translate(1797,3027) rotate(-90)">A280 nm (mAU)</text>
<text transform="translate(2527,3022) rotate(-90)">Buffer B (%)</text></g>
<g><text x="2450" y="2864">100</text><text x="2450" y="2930">80</text><text x="2450" y="2995">60</text><text x="2450" y="3060">40</text><text x="2450" y="3125">20</text><text x="2450" y="3191">0</text></g>
<g font-size="16"><text x="1969" y="2864">A280 nm</text><text x="1969" y="2900">Gradient (% of buffer B)</text></g>
</g>

<!-- CHART 4 -->
<g class="ns" transform="translate(1701,2940) scale(1.0848,1.0178)" fill="none">
<rect x="912" y="-113" width="503" height="332" stroke="#aaa" stroke-width="1.5"/>
<path d="M903,-113H912M903,-47H912M903,20H912M903,86H912M903,152H912M903,219H912M1408,-84H1422M1408,-23H1422M1408,38H1422M1408,98H1422M1408,158H1422M1408,219H1422" stroke="#666" stroke-width="1.2"/>
<path d="M912,219V226M1009,219V226M1105,219V226M1201,219V226M1298,219V226M1394,219V226" stroke="#666" stroke-width="1.2"/>
<path d="M912,219H1415" stroke="#333" stroke-width="1.5"/>
<path d="M912,219 L1232,219 L1232,175 L1298,175 L1298,129 L1362,129 L1362,-84 L1398,-84 L1398,219 L1415,219" stroke="#111" stroke-width="2.5" stroke-dasharray="7,5"/>
<path d="M912,219 L920,219 L925,200 L930,120 L935,100 L950,94 L980,91 L1050,89 L1150,87 L1230,86 L1234,100 L1238,160 L1245,195 L1260,207 L1295,212 L1299,150 L1302,72 L1305,130 L1310,195 L1330,210 L1360,214 L1363,150 L1366,-75 L1368,-20 L1370,120 L1375,170 L1385,200 L1400,212 L1407,214 L1410,203 L1413,214 L1415,216" stroke="#1f5f9f" stroke-width="3"/>
</g>
<line x1="2760" y1="2858" x2="2803" y2="2858" stroke="#1f5f9f" stroke-width="3"/>
<line x1="2760" y1="2902" x2="2790" y2="2902" stroke="#111" stroke-width="2.5" stroke-dasharray="7,5"/>
<g class="tk" font-size="20">
<g text-anchor="end"><text x="2670" y="2832">2500</text><text x="2670" y="2899">2000</text><text x="2670" y="2967">1500</text><text x="2670" y="3035">1000</text><text x="2670" y="3102">500</text><text x="2670" y="3170">0</text></g>
<g text-anchor="middle"><text x="2690" y="3202">0</text><text x="2795" y="3202">5</text><text x="2900" y="3202">10</text><text x="3004" y="3202">15</text><text x="3109" y="3202">20</text><text x="3213" y="3202">25</text>
<text x="2975" y="3230">Time (min)</text>
<text transform="translate(2608,3021) rotate(-90)" font-size="19">A 280nm (mAU)</text>
<text transform="translate(3321,3016) rotate(-90)" font-size="19">Buffer B (%)</text></g>
<g><text x="3258" y="2862">100</text><text x="3258" y="2924">80</text><text x="3258" y="2986">60</text><text x="3258" y="3047">40</text><text x="3258" y="3108">20</text><text x="3258" y="3170">0</text></g>
<g font-size="16"><text x="2806" y="2864">A280 nm</text><text x="2806" y="2908">Gradient (% of buffer B)</text></g>
</g>

<!-- scale-up captions -->
<g font-size="31" fill="#111">
<text x="1794" y="3333" font-weight="bold" textLength="723" lengthAdjust="spacingAndGlyphs">Phage separation on CIM® QA Monolithic Column.</text>
<text x="1794" y="3375" textLength="723" lengthAdjust="spacingAndGlyphs">Sample: bacterial lysate-2x diluted in buffer A.</text>
<text x="1794" y="3416" textLength="723" lengthAdjust="spacingAndGlyphs">Conditions: buffer A: 100 mM phosphate buffer pH</text>
<text x="1794" y="3458" textLength="723" lengthAdjust="spacingAndGlyphs">7, buffer B: 2.0 M NaCl in buffer A, pH 7.5, flow</text>
<text x="1794" y="3499" textLength="579" lengthAdjust="spacingAndGlyphs">rate: 4 mL/min (210 cm/h); 11.7 CV/min).</text>
<text x="2588" y="3333" font-weight="bold" textLength="706" lengthAdjust="spacingAndGlyphs">Phage separation on CIM® QA 8 mL Column.</text>
<text x="2588" y="3375" textLength="706" lengthAdjust="spacingAndGlyphs">Sample: bacterial lysate-2x diluted in buffer A.</text>
<text x="2588" y="3416" textLength="706" lengthAdjust="spacingAndGlyphs">Conditions: buffer A:  100 mM phosphate buffer</text>
<text x="2588" y="3458" textLength="706" lengthAdjust="spacingAndGlyphs">pH 7, buffer B: 2.0 M NaCl in buffer A, pH 7.5, flow</text>
<text x="2588" y="3499" textLength="579" lengthAdjust="spacingAndGlyphs">rate: 30 mL/min (210 cm/h; 3.7 CV/min)).</text>
</g>

<!-- RESULTS TABLE -->
<rect x="1784" y="3545" width="1504" height="107" fill="#4babc6"/>
<rect x="1784" y="3657" width="1504" height="59" fill="#d0e3ea"/>
<rect x="1784" y="3719" width="1504" height="59" fill="#e8f0f4"/>
<g stroke="#fff" stroke-width="3"><line x1="2205" y1="3545" x2="2205" y2="3778"/><line x1="2542" y1="3545" x2="2542" y2="3778"/><line x1="2898" y1="3545" x2="2898" y2="3778"/></g>
<g font-size="38" font-weight="bold" fill="#fff">
<text x="1824" y="3615" textLength="341" lengthAdjust="spacingAndGlyphs">Monolithic Column</text>
<text x="2238" y="3615" textLength="271" lengthAdjust="spacingAndGlyphs">Phage recovery</text>
<text x="2577" y="3615" textLength="283" lengthAdjust="spacingAndGlyphs">Protein removal</text>
<text x="2973" y="3589" textLength="241" lengthAdjust="spacingAndGlyphs">Host cell DNA</text>
<text x="3022" y="3640" textLength="143" lengthAdjust="spacingAndGlyphs">removal</text>
</g>
<g font-size="37" fill="#111">
<text x="1878" y="3706" textLength="234" lengthAdjust="spacingAndGlyphs">CIM® QA Disc</text>
<text x="2336" y="3706" textLength="75" lengthAdjust="spacingAndGlyphs">54%</text>
<text x="2683" y="3706" textLength="74" lengthAdjust="spacingAndGlyphs">90%</text>
<text x="3046" y="3706" textLength="94" lengthAdjust="spacingAndGlyphs">&gt;99%</text>
<text x="1871" y="3767" textLength="246" lengthAdjust="spacingAndGlyphs">CIM® QA 8 mL</text>
<text x="2336" y="3767" textLength="75" lengthAdjust="spacingAndGlyphs">65%</text>
<text x="2683" y="3767" textLength="74" lengthAdjust="spacingAndGlyphs">91%</text>
<text x="3046" y="3767" textLength="94" lengthAdjust="spacingAndGlyphs">&gt;99%</text>
</g>

<!-- BOTTOM BOX -->
<path d="M0,3915 H3260 A65,65 0 0 1 3325,3980 V4536 H0 Z" fill="#d5e4eb"/>
<text x="141" y="3897" font-size="62" font-weight="bold" fill="#1a9bb3" textLength="456" lengthAdjust="spacingAndGlyphs">CONCLUSIONS</text>
<text x="1764" y="3897" font-size="62" font-weight="bold" fill="#1a9bb3" textLength="414" lengthAdjust="spacingAndGlyphs">REFERENCES:</text>

<g fill="#e8912d"><circle cx="149" cy="3980" r="6"/><circle cx="149" cy="4108" r="6"/><circle cx="149" cy="4236" r="6"/><circle cx="149" cy="4308" r="6"/></g>
<g font-size="42" fill="#111">
<text x="187" y="3993" textLength="1449" lengthAdjust="spacingAndGlyphs">Efficient purification method for phage was developed on CIM® ion</text>
<text x="187" y="4049" textLength="909" lengthAdjust="spacingAndGlyphs">exchangers: up to 65% recovery of viable phage.</text>
<text x="187" y="4121" textLength="1449" lengthAdjust="spacingAndGlyphs">High dynamic binding capacity (1.1E+10 pfu/mL) and speed of CIM®</text>
<text x="187" y="4177" textLength="665" lengthAdjust="spacingAndGlyphs">supports enables high productivity.</text>
<text x="187" y="4249" textLength="1275" lengthAdjust="spacingAndGlyphs">High removal of host cell proteins (&gt;90%)  and host cell DNA (&gt;99%)</text>
<text x="187" y="4321" textLength="1449" lengthAdjust="spacingAndGlyphs">Scale-up of purification method from lab scale CIM® disc (0.34 mL) to 8  mL</text>
<text x="187" y="4377" textLength="1449" lengthAdjust="spacingAndGlyphs">CIM® monolithic column without sacrificing speed of processing – scaled-up</text>
<text x="187" y="4433" textLength="570" lengthAdjust="spacingAndGlyphs">method completed in &lt;30 min</text>
</g>

<g fill="#f4b41a"><circle cx="1778" cy="3980" r="6"/><circle cx="1778" cy="4165" r="6"/><circle cx="1778" cy="4348" r="6"/></g>
<g font-size="42" fill="#111">
<text x="1813" y="3993" textLength="1290" lengthAdjust="spacingAndGlyphs">Kramberger P. , Honour R. C. , Herman R. E. , Smrekar F. , Peterka M.,</text>
<text x="1813" y="4049" textLength="1285" lengthAdjust="spacingAndGlyphs">Purification of the <tspan font-style="italic">Staphylococcus aureus</tspan> bacteriophages VDX-10 on</text>
<text x="1813" y="4105" textLength="1032" lengthAdjust="spacingAndGlyphs">methacrylate monoliths <tspan font-style="italic">J Virol Meth</tspan> 2010 (166) 60-64.</text>
<text x="1813" y="4178" textLength="1468" lengthAdjust="spacingAndGlyphs">Smrekar F., Ciringer M., Peterka M., Podgornik A., Štrancar A., Purification and</text>
<text x="1813" y="4234" textLength="1486" lengthAdjust="spacingAndGlyphs">concentration of bacteriophage T4 using monolithic chromatographic supports</text>
<text x="1809" y="4290" textLength="532" lengthAdjust="spacingAndGlyphs"><tspan font-style="italic">J Chrom B</tspan> 2008 (2) 177-180.</text>
<text x="1813" y="4361" textLength="1301" lengthAdjust="spacingAndGlyphs">Smrekar F., Ciringer M., Štrancar A., Podgornik A., Characterisation of</text>
<text x="1813" y="4418" textLength="1416" lengthAdjust="spacingAndGlyphs">methacrylate monoliths for bacteriophage purification <tspan font-style="italic">J Chrom A</tspan> 2010 (17)</text>
<text x="1813" y="4474" textLength="165" lengthAdjust="spacingAndGlyphs">2438-44.</text>
</g>
</svg>
</body></html>
